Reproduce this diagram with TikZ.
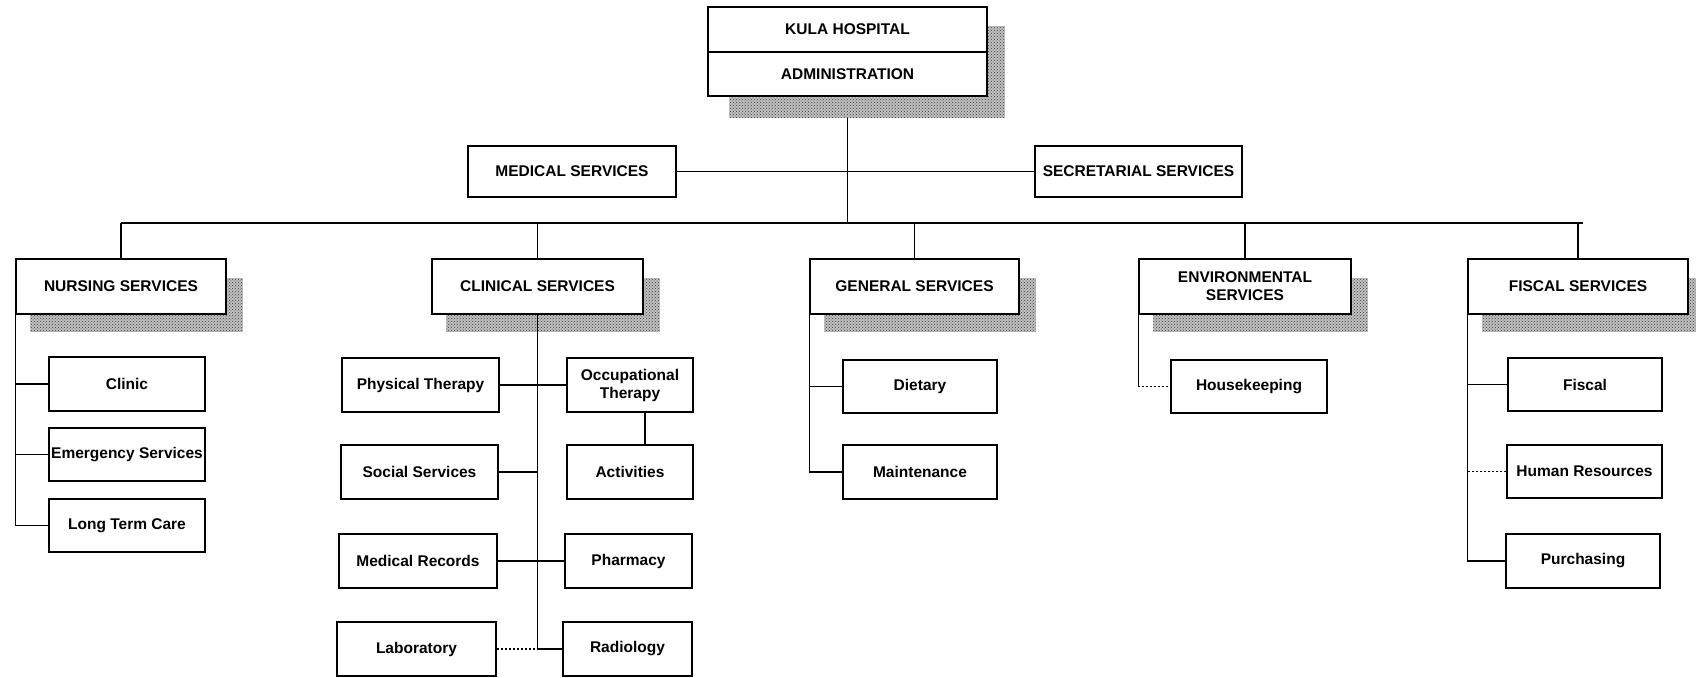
\documentclass[tikz,border=0pt]{standalone}
\usepackage{fontspec}
\setmainfont{Liberation Sans}
\usetikzlibrary{backgrounds,patterns}
\tikzset{
  box/.style={draw, fill=white, line width=1.3pt, inner sep=0pt, align=center,
    font=\fontsize{15.5}{18}\selectfont\bfseries},
  shadowfill/.style={fill=gray!50, postaction={pattern=crosshatch dots, pattern color=black!75}},
  link/.style={line width=1.3pt},
  dotlink/.style={line width=1.3pt, dash pattern=on 2pt off 2pt},
}
\newcommand{\bx}[7]{\node[box,#1,minimum width={(#4-#2)*1pt},minimum height={(#5-#3)*1pt}] (#6) at ({(#2+#4)/2},{(#3+#5)/2}) {#7};}
\newcommand{\shd}[1]{\fill[shadowfill] ([shift={(15pt,-17pt)}]#1.south west) rectangle ([shift={(16pt,-20pt)}]#1.north east);}
\begin{document}
\begin{tikzpicture}[x=1pt,y=-1pt]
\begin{pgfonlayer}{background}
\fill[white] (0,0) rectangle (1696,677);
\end{pgfonlayer}
\useasboundingbox (0,0) rectangle (1696,677);

% top
\bx{}{708}{7}{987}{52}{top1}{KULA HOSPITAL}
\bx{}{708}{52}{987}{96}{top2}{ADMINISTRATION}
\bx{}{468}{146}{676}{197}{med}{MEDICAL SERVICES}
\bx{}{1035}{146}{1242}{197}{sec}{SECRETARIAL SERVICES}

% level 1
\bx{}{16}{259}{226}{314}{nurs}{NURSING SERVICES}
\bx{}{432}{259}{643}{314}{clin}{CLINICAL SERVICES}
\bx{}{810}{259}{1019}{314}{gen}{GENERAL SERVICES}
\bx{}{1139}{259}{1351}{314}{env}{ENVIRONMENTAL\\SERVICES}
\bx{}{1468}{259}{1688}{314}{fis}{FISCAL SERVICES}

% nursing
\bx{}{49}{357}{205}{411}{clinic}{Clinic}
\bx{}{49}{428}{205}{481}{emerg}{Emergency Services}
\bx{}{49}{499}{205}{552}{ltc}{Long Term Care}

% clinical
\bx{}{342}{358}{499}{412}{pt}{Physical Therapy}
\bx{}{567}{358}{693}{412}{ot}{Occupational\\Therapy}
\bx{}{341}{445}{498}{499}{soc}{Social Services}
\bx{}{567}{445}{693}{499}{act}{Activities}
\bx{}{339}{534}{497}{588}{mr}{Medical Records}
\bx{}{565}{534}{692}{588}{ph}{Pharmacy}
\bx{}{337}{622}{496}{676}{lab}{Laboratory}
\bx{}{563}{622}{692}{676}{rad}{Radiology}

% general
\bx{}{843}{360}{997}{413}{diet}{Dietary}
\bx{}{843}{445}{997}{499}{maint}{Maintenance}

% environmental
\bx{}{1171}{360}{1327}{413}{hk}{Housekeeping}

% fiscal
\bx{}{1508}{358}{1662}{411}{fisc}{Fiscal}
\bx{}{1507}{445}{1662}{498}{hr}{Human Resources}
\bx{}{1506}{534}{1660}{588}{pur}{Purchasing}

\begin{pgfonlayer}{background}
\fill[shadowfill] ([shift={(22pt,-21pt)}]top2.south west) rectangle ([shift={(17pt,-20pt)}]top1.north east);
\shd{nurs}\shd{clin}\shd{gen}\shd{env}\shd{fis}
\end{pgfonlayer}

% connectors
\coordinate (busL) at (121,223);
\coordinate (busR) at (1583,223);
\draw[link] ([yshift=-21pt]top2.south) -- (top2.south |- busL);
\draw[link] (med.east) -- (sec.west);
\draw[link] (busL) -- (busR);
\foreach \n in {nurs,clin,gen,env,fis} \draw[link] (\n.north) -- (\n.north |- busL);

% nursing
\draw[link] (nurs.south west) |- (ltc.west);
\draw[link] (clinic.west) -- (clinic.west -| nurs.south west);
\draw[link] (emerg.west) -- (emerg.west -| nurs.south west);

% clinical
\draw[link] (clin.south) -- (clin.south |- rad.west) -- (rad.west);
\draw[link] (pt.east) -- (ot.west);
\draw[link] (soc.east) -- (soc.east -| clin.south);
\draw[link] (mr.east) -- (ph.west);
\draw[dotlink] (lab.east) -- (lab.east -| clin.south);
\draw[link] ([xshift=15pt]ot.south) -- ([xshift=15pt]act.north);

% general
\draw[link] (gen.south west) |- (maint.west);
\draw[link] (diet.west) -- (diet.west -| gen.south west);

% environmental
\draw[link] (env.south west) -- (env.south west |- hk.west);
\draw[dotlink] (env.south west |- hk.west) -- (hk.west);

% fiscal
\draw[link] (fis.south west) |- (pur.west);
\draw[link] (fisc.west) -- (fisc.west -| fis.south west);
\draw[dotlink] (hr.west) -- (hr.west -| fis.south west);
\end{tikzpicture}
\end{document}
